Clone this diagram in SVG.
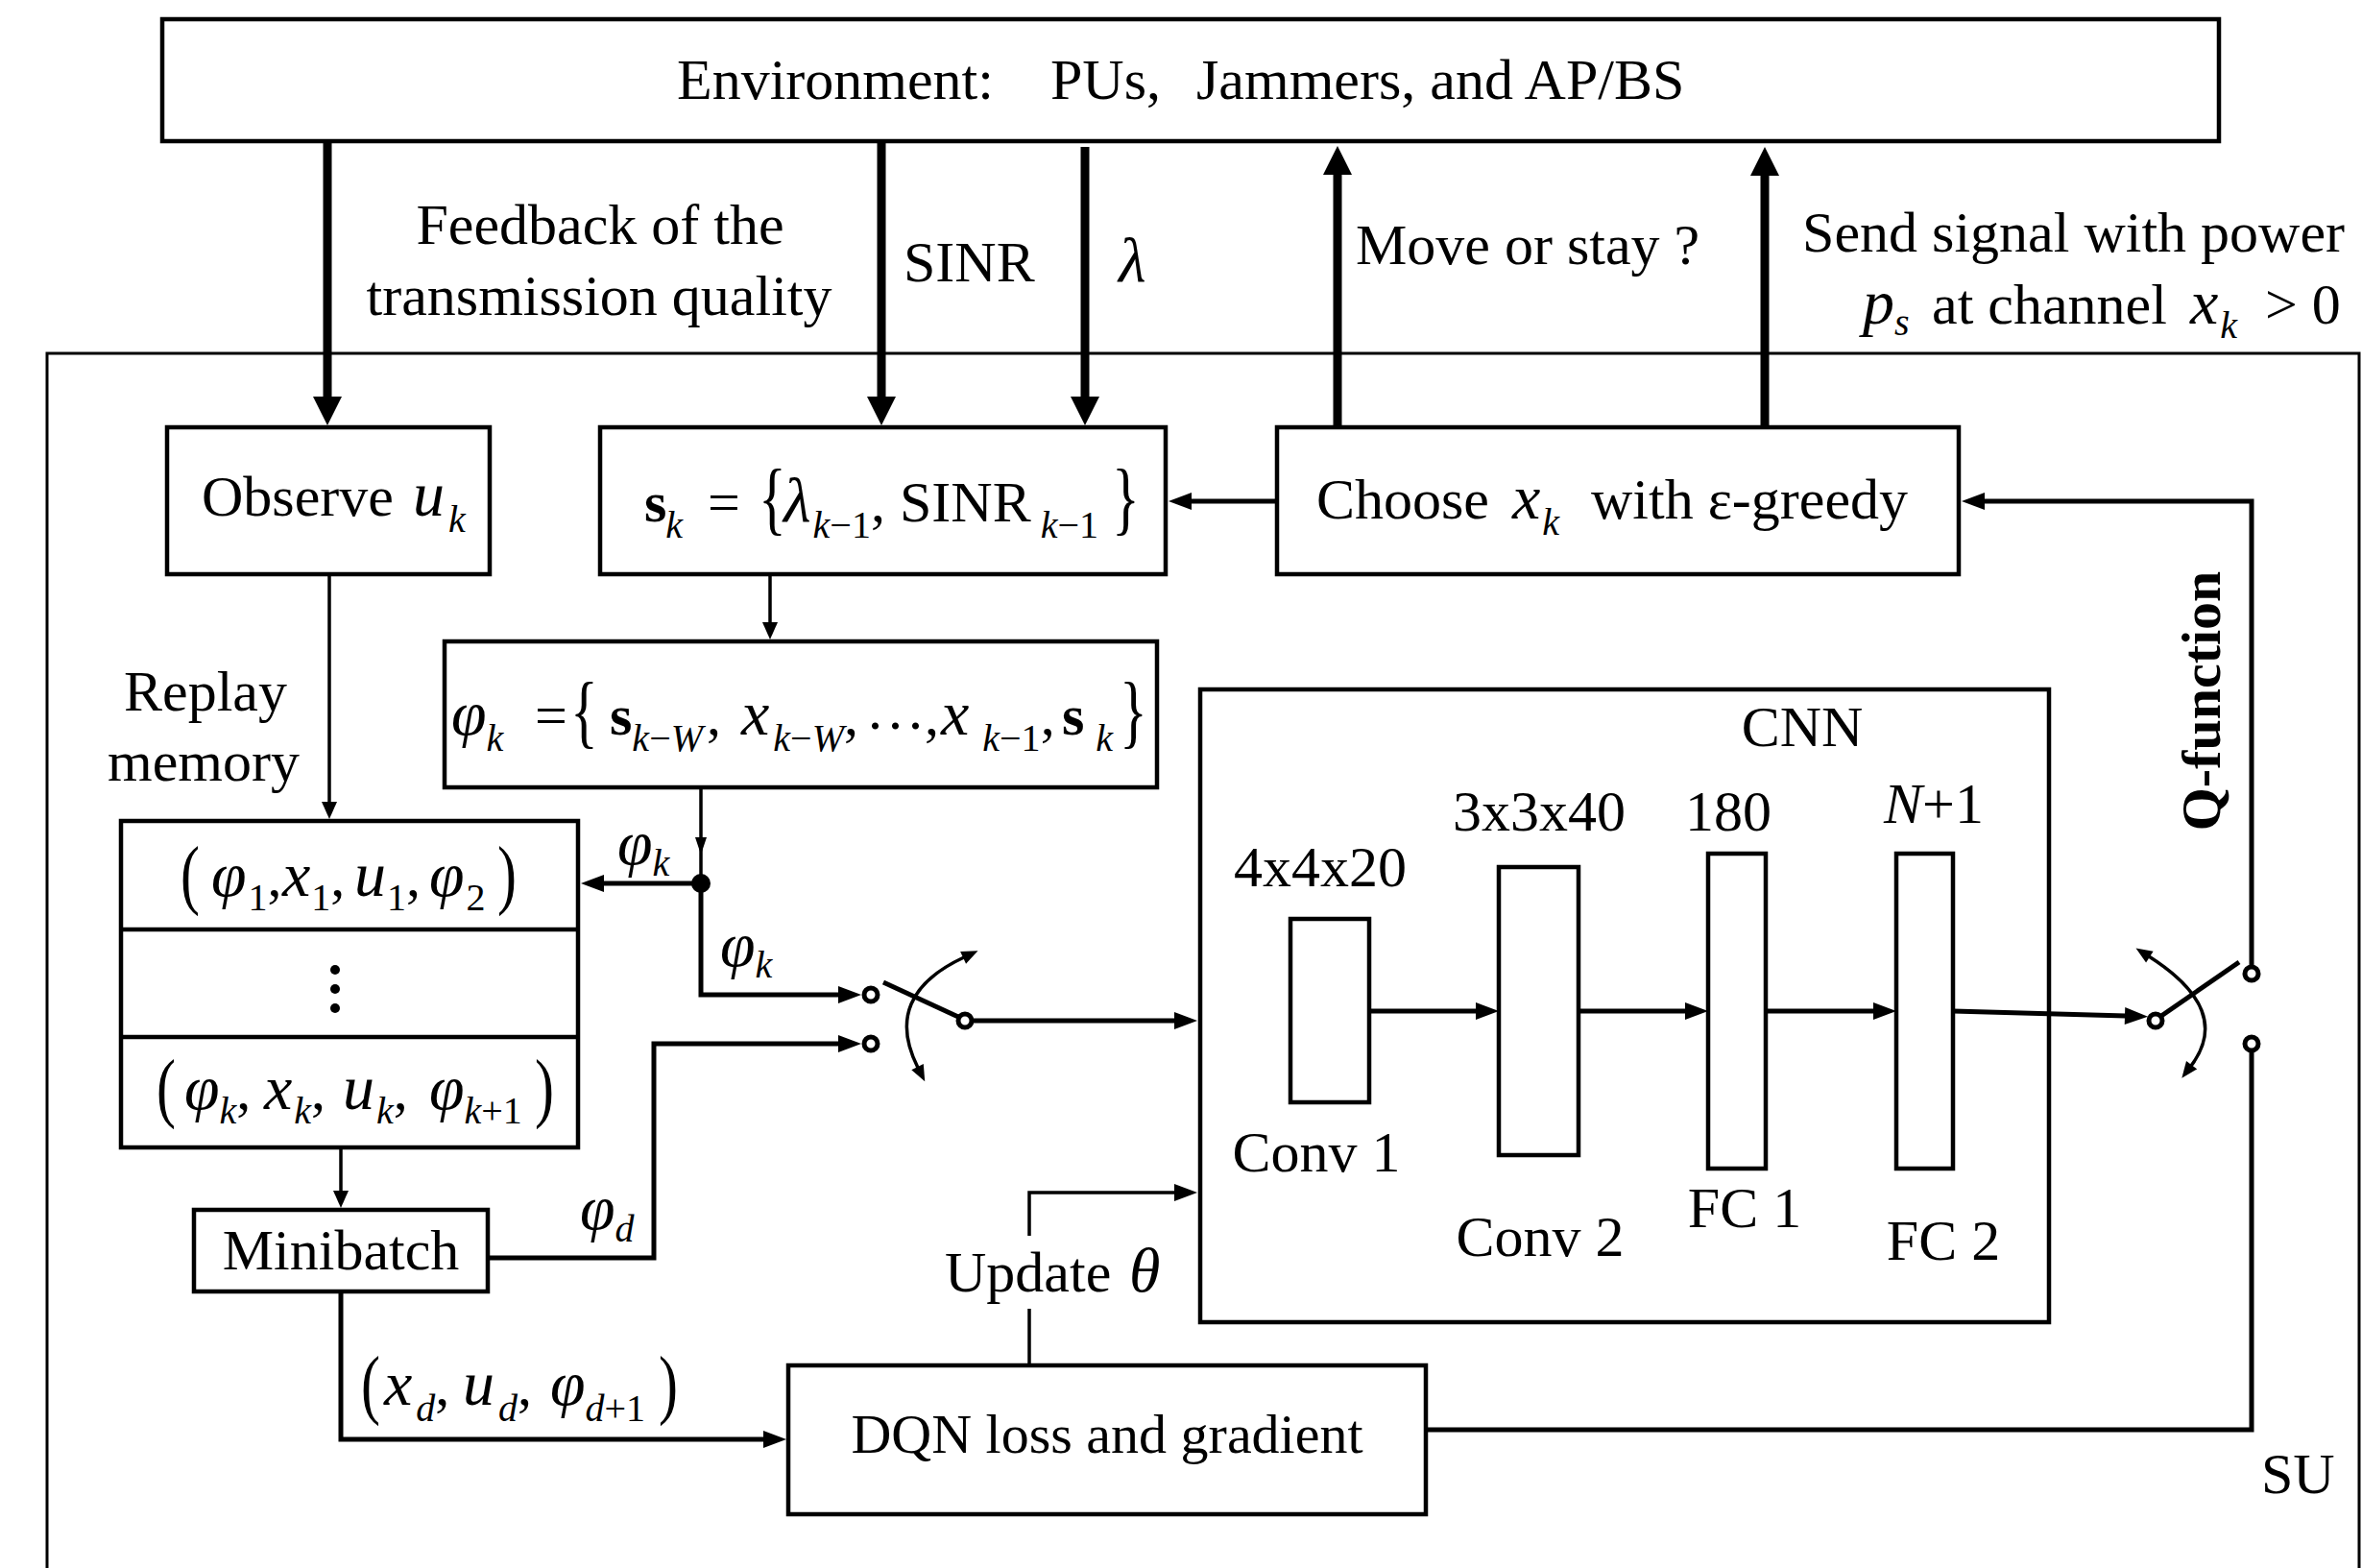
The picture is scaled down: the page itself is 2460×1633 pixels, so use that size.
<svg xmlns="http://www.w3.org/2000/svg" width="2460" height="1633" viewBox="0 0 2460 1633">
<style>
.box{fill:#fff;stroke:#000;stroke-width:4.5}
.t{font-family:"Liberation Serif","Times New Roman",serif;font-size:60px;fill:#000}
.i{font-style:italic}
.m{font-style:italic;font-size:66px}
.s{font-size:40px}
.bd{font-weight:bold}
.thick{stroke:#000;stroke-width:9;fill:none}
.med{stroke:#000;stroke-width:5;fill:none}
.thin{stroke:#000;stroke-width:3.5;fill:none}
.ct{fill:#fff;stroke:#000;stroke-width:5}
</style>
<defs>
<marker id="hBig" markerUnits="userSpaceOnUse" markerWidth="32" markerHeight="30" refX="1" refY="15" orient="auto" overflow="visible"><path d="M0,0 L30,15 L0,30 z" fill="#000"/></marker>
<marker id="hMed" markerUnits="userSpaceOnUse" markerWidth="26" markerHeight="20" refX="1" refY="9" orient="auto" overflow="visible"><path d="M0,0 L24,9 L0,18 z" fill="#000"/></marker>
<marker id="hSm" markerUnits="userSpaceOnUse" markerWidth="20" markerHeight="16" refX="1" refY="8" orient="auto" overflow="visible"><path d="M0,0 L18,8 L0,16 z" fill="#000"/></marker>
<marker id="hNar" markerUnits="userSpaceOnUse" markerWidth="20" markerHeight="14" refX="1" refY="6" orient="auto" overflow="visible"><path d="M0,0 L18,6 L0,12 z" fill="#000"/></marker>
<marker id="hArc" markerUnits="userSpaceOnUse" markerWidth="18" markerHeight="16" refX="1" refY="7" orient="auto-start-reverse" overflow="visible"><path d="M0,0 L17,7 L0,14 z" fill="#000"/></marker>
</defs>
<rect x="0" y="0" width="2460" height="1633" fill="#fff"/>

<g id="su-frame">
<path d="M49,1650 V368 H2457 V1650" fill="none" stroke="#000" stroke-width="3"/>
<text class="t" x="2355" y="1555">SU</text>
</g>

<g id="environment">
<rect class="box" x="169" y="20" width="2142" height="127" stroke-width="4"/>
<text class="t" x="705" y="103">Environment:</text>
<text class="t" x="1094" y="103">PUs,</text>
<text class="t" x="1246" y="103">Jammers, and AP/BS</text>
</g>

<g id="observe">
<rect class="box" x="174" y="445" width="336" height="153"/>
<text class="t" x="210" y="537">Observe<tspan class="m" x="430">u</tspan><tspan class="s i" dx="4" dy="17">k</tspan></text>
</g>

<g id="state">
<rect class="box" x="625" y="445" width="589" height="153"/>
<text class="t" y="543"><tspan class="bd" x="671">s</tspan><tspan class="s i" dx="-1" dy="17">k</tspan><tspan x="737" dy="-17">=</tspan><tspan class="m" x="816">λ</tspan><tspan class="s" dx="2" dy="17"><tspan class="i">k</tspan>−1</tspan><tspan dy="-17">,</tspan><tspan x="937">SINR</tspan><tspan class="s" dx="10" dy="17"><tspan class="i">k</tspan>−1</tspan></text>
<text class="t" transform="translate(790,547) scale(1,1.4)">{</text>
<text class="t" transform="translate(1158,547) scale(1,1.4)">}</text>
</g>

<g id="choose">
<rect class="box" x="1330" y="445" width="710" height="153"/>
<text class="t" y="540"><tspan x="1371">Choose</tspan><tspan class="m" x="1575">x</tspan><tspan class="s i" dx="2" dy="17">k</tspan><tspan x="1657" dy="-17">with ε-greedy</tspan></text>
</g>

<g id="phi">
<rect class="box" x="463" y="668" width="742" height="152"/>
<text class="t" y="765"><tspan class="m" x="470">φ</tspan><tspan class="s i" dx="0" dy="17">k</tspan><tspan x="557" dy="-17">=</tspan><tspan class="bd" x="635">s</tspan><tspan class="s" dy="17"><tspan class="i">k</tspan>−<tspan class="i">W</tspan></tspan><tspan dx="4" dy="-17">,</tspan><tspan class="m" x="772">x</tspan><tspan class="s" dx="4" dy="17"><tspan class="i">k</tspan>−<tspan class="i">W</tspan></tspan><tspan dy="-17">,</tspan><tspan x="904" y="759" letter-spacing="6">...</tspan><tspan x="963" y="765">,</tspan><tspan class="m" x="980">x</tspan><tspan class="s" dx="14" dy="17"><tspan class="i">k</tspan>−1</tspan><tspan dy="-17">,</tspan><tspan class="bd" x="1106">s</tspan><tspan class="s i" dx="12" dy="17">k</tspan></text>
<text class="t" transform="translate(594,769) scale(1,1.4)">{</text>
<text class="t" transform="translate(1166,769) scale(1,1.4)">}</text>
</g>

<g id="replay-memory">
<text class="t" x="214" y="740" text-anchor="middle">Replay</text>
<text class="t" x="212" y="813" text-anchor="middle">memory</text>
<rect class="box" x="126" y="855" width="476" height="340"/>
<line x1="126" y1="968" x2="602" y2="968" stroke="#000" stroke-width="4.5"/>
<line x1="126" y1="1080" x2="602" y2="1080" stroke="#000" stroke-width="4.5"/>
<text class="t" y="933"><tspan class="m" x="220">φ</tspan><tspan class="s" dx="2" dy="15">1</tspan><tspan dy="-15">,</tspan><tspan class="m" x="294">x</tspan><tspan class="s" dx="1" dy="15">1</tspan><tspan dy="-15">,</tspan><tspan class="m" x="369">u</tspan><tspan class="s" dx="1" dy="15">1</tspan><tspan dy="-15">,</tspan><tspan class="m" x="447">φ</tspan><tspan class="s" dx="2" dy="15">2</tspan></text>
<text class="t" transform="translate(188,937) scale(1,1.35)">(</text>
<text class="t" transform="translate(518,937) scale(1,1.35)">)</text>
<circle cx="349" cy="1010" r="5"/>
<circle cx="349" cy="1030" r="5"/>
<circle cx="349" cy="1050" r="5"/>
<text class="t" y="1155"><tspan class="m" x="192">φ</tspan><tspan class="s i" dy="15">k</tspan><tspan dy="-15">,</tspan><tspan class="m" x="275">x</tspan><tspan class="s i" dx="2" dy="15">k</tspan><tspan dy="-15">,</tspan><tspan class="m" x="357">u</tspan><tspan class="s i" dx="2" dy="15">k</tspan><tspan dy="-15">,</tspan><tspan class="m" x="447">φ</tspan><tspan class="s" dy="15"><tspan class="i">k</tspan>+1</tspan></text>
<text class="t" transform="translate(163,1159) scale(1,1.35)">(</text>
<text class="t" transform="translate(557,1159) scale(1,1.35)">)</text>
</g>

<g id="minibatch">
<rect class="box" x="202" y="1260" width="306" height="85"/>
<text class="t" x="355" y="1322" text-anchor="middle">Minibatch</text>
</g>

<g id="dqn">
<rect class="box" x="821" y="1422" width="664" height="155"/>
<text class="t" x="1153" y="1513" text-anchor="middle" style="font-size:58px">DQN loss and gradient</text>
</g>

<g id="cnn">
<rect class="box" x="1250" y="718" width="884" height="659"/>
<text class="t" x="1877" y="777" text-anchor="middle">CNN</text>
<rect class="box" x="1344" y="957" width="82" height="191"/>
<rect class="box" x="1561" y="903" width="83" height="300"/>
<rect class="box" x="1779" y="889" width="60" height="328"/>
<rect class="box" x="1975" y="889" width="59" height="328"/>
<text class="t" x="1375" y="923" text-anchor="middle">4x4x20</text>
<text class="t" x="1603" y="865" text-anchor="middle">3x3x40</text>
<text class="t" x="1800" y="865" text-anchor="middle">180</text>
<text class="t" x="2014" y="857" text-anchor="middle"><tspan class="i">N</tspan>+1</text>
<text class="t" x="1371" y="1220" text-anchor="middle">Conv 1</text>
<text class="t" x="1604" y="1308" text-anchor="middle">Conv 2</text>
<text class="t" x="1817" y="1278" text-anchor="middle">FC 1</text>
<text class="t" x="2024" y="1312" text-anchor="middle">FC 2</text>
</g>

<g id="connectors">
<path class="thick" d="M341,147 V414" marker-end="url(#hBig)"/>
<path class="thick" d="M918,147 V414" marker-end="url(#hBig)"/>
<path class="thick" d="M1130,153 V414" marker-end="url(#hBig)"/>
<path class="thick" d="M1393,445 V181" marker-end="url(#hBig)"/>
<path class="thick" d="M1838,445 V182" marker-end="url(#hBig)"/>
<path class="med" d="M1330,522 H1240" marker-end="url(#hMed)"/>
<path class="med" d="M2345,1006 V522 H2066" marker-end="url(#hMed)"/>
<path class="med" d="M730,920 H628" marker-end="url(#hMed)"/>
<path class="med" d="M730,920 V1036 H874" marker-end="url(#hMed)"/>
<path class="med" d="M508,1310 H681 V1087 H874" marker-end="url(#hMed)"/>
<path class="med" d="M355,1345 V1499 H796" marker-end="url(#hMed)"/>
<path class="thin" d="M1072,1422 V1363"/>
<path class="thin" d="M1072,1287 V1242 H1224" marker-end="url(#hMed)"/>
<path class="med" d="M1012,1063 H1224" marker-end="url(#hMed)"/>
<path class="med" d="M1426,1053 H1538" marker-end="url(#hMed)"/>
<path class="med" d="M1644,1053 H1756" marker-end="url(#hMed)"/>
<path class="med" d="M1839,1053 H1952" marker-end="url(#hMed)"/>
<path class="med" d="M2034,1053 L2214,1058" marker-end="url(#hMed)"/>
<path class="med" d="M1485,1489 H2345 V1094"/>
<path class="thin" d="M343,598 V836" marker-end="url(#hSm)"/>
<path class="thin" d="M802,598 V649" marker-end="url(#hSm)"/>
<path class="thin" d="M355,1195 V1241" marker-end="url(#hSm)"/>
<path class="thin" d="M730,820 L730,873 L730,920" marker-mid="url(#hNar)"/>
<circle cx="730" cy="920" r="10" fill="#000"/>
<text class="t" x="1412" y="275">Move or stay ?</text>
<text class="t" x="2442" y="262" text-anchor="end">Send signal with power</text>
<text class="t" y="337"><tspan class="m" x="1940">p</tspan><tspan class="s i" dy="12">s</tspan><tspan x="2012" dy="-12">at channel</tspan><tspan class="m" x="2281">x</tspan><tspan class="s i" dx="2" dy="15">k</tspan><tspan x="2359" dy="-15">&gt; 0</tspan></text>
<text class="t" x="625" y="254" text-anchor="middle">Feedback of the</text>
<text class="t" x="624" y="328" text-anchor="middle">transmission quality</text>
<text class="t" x="941" y="293">SINR</text>
<text class="t m" x="1165" y="293">λ</text>
<text class="t bd" transform="translate(2312,730) rotate(-90)" text-anchor="middle" style="font-size:58px">Q-function</text>
<text class="t" y="900"><tspan class="m" x="643">φ</tspan><tspan class="s i" dy="12">k</tspan></text>
<text class="t" y="1006"><tspan class="m" x="750">φ</tspan><tspan class="s i" dy="12">k</tspan></text>
<text class="t" y="1280"><tspan class="m" x="604">φ</tspan><tspan class="s i" dy="13">d</tspan></text>
<text class="t" y="1463"><tspan class="m" x="400">x</tspan><tspan class="s i" dx="4" dy="17">d</tspan><tspan dy="-17">,</tspan><tspan class="m" x="482">u</tspan><tspan class="s i" dx="4" dy="17">d</tspan><tspan dy="-17">,</tspan><tspan class="m" x="573">φ</tspan><tspan class="s" dy="17"><tspan class="i">d</tspan>+1</tspan></text>
<text class="t" transform="translate(376,1468) scale(1,1.35)">(</text>
<text class="t" transform="translate(686,1468) scale(1,1.35)">)</text>
<text class="t" x="984" y="1345">Update<tspan class="m" x="1176">θ</tspan></text>
</g>

<g id="switch-in">
<path class="thin" d="M1004,997 Q918,1037 956,1112" marker-start="url(#hArc)" marker-end="url(#hArc)"/>
<line x1="920" y1="1023" x2="998" y2="1059" stroke="#000" stroke-width="5"/>
<circle class="ct" cx="907" cy="1036" r="7"/>
<circle class="ct" cx="907" cy="1087" r="7"/>
<circle class="ct" cx="1005" cy="1063" r="7"/>
</g>

<g id="switch-out">
<path class="thin" d="M2238,996 Q2326,1052 2282,1110" marker-start="url(#hArc)" marker-end="url(#hArc)"/>
<line x1="2251" y1="1058" x2="2332" y2="1002" stroke="#000" stroke-width="5"/>
<circle class="ct" cx="2245" cy="1063" r="7"/>
<circle class="ct" cx="2345" cy="1014" r="7"/>
<circle class="ct" cx="2345" cy="1087" r="7"/>
</g>
</svg>
